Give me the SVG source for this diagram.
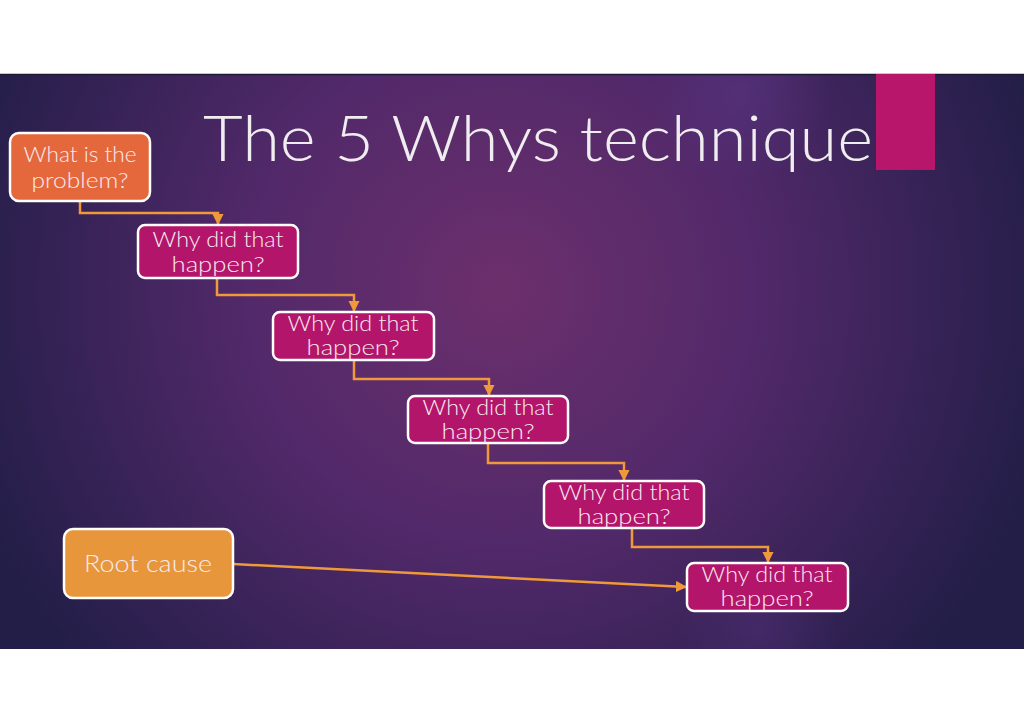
<svg xmlns="http://www.w3.org/2000/svg" width="1024" height="724" viewBox="0 0 1024 724">
  <defs>
    <radialGradient id="bg" cx="500" cy="290" r="560" gradientUnits="userSpaceOnUse">
      <stop offset="0" stop-color="#6C2F6C"/>
      <stop offset="0.45" stop-color="#52296A"/>
      <stop offset="1" stop-color="#231E48"/>
    </radialGradient>
    <radialGradient id="spot1" cx="740" cy="90" r="90" gradientUnits="userSpaceOnUse">
      <stop offset="0" stop-color="#5A3585" stop-opacity="0.6"/>
      <stop offset="1" stop-color="#5A3585" stop-opacity="0"/>
    </radialGradient>
    <radialGradient id="spot2" cx="760" cy="630" r="80" gradientUnits="userSpaceOnUse">
      <stop offset="0" stop-color="#5A3585" stop-opacity="0.35"/>
      <stop offset="1" stop-color="#5A3585" stop-opacity="0"/>
    </radialGradient>
    <marker id="arr" viewBox="0 0 10 10" refX="9" refY="5" markerWidth="4.5" markerHeight="4.5" orient="auto" markerUnits="strokeWidth">
      <path d="M0,0 L10,5 L0,10 z" fill="#F0993A"/>
    </marker>
  </defs>
  <style>
    .box { stroke: #FFFFFF; stroke-width: 2.5; }
    .why { fill: #B3156B; }
    .lbl { font-family: "Lato", "Open Sans", "Liberation Sans", sans-serif; font-weight: 300; font-size: 21px; fill: #F7EAF0; text-anchor: middle; }
    .conn { fill: none; stroke: #F0993A; stroke-width: 2.5; }
  </style>
  <rect x="0" y="0" width="1024" height="724" fill="#FFFFFF"/>
  <rect x="0" y="74" width="1024" height="575" fill="url(#bg)"/>
  <rect x="0" y="74" width="1024" height="575" fill="url(#spot1)"/>
  <rect x="0" y="74" width="1024" height="575" fill="url(#spot2)"/>
  <line x1="0" y1="74.5" x2="1024" y2="74.5" stroke="#1E1A33" stroke-width="1.5"/>
  <rect x="876" y="74" width="59" height="96" fill="#B8166A"/>
  <text x="203" y="161" font-family="Lato, 'Open Sans', 'Liberation Sans', sans-serif" font-weight="300" font-size="63" fill="#EFEDEF" textLength="670" lengthAdjust="spacingAndGlyphs">The 5 Whys technique</text>

  <g id="connectors">
    <polyline class="conn" points="80,201 80,213 218,213 218,224" marker-end="url(#arr)"/>
    <polyline class="conn" points="217,278 217,295 354,295 354,311" marker-end="url(#arr)"/>
    <polyline class="conn" points="354,360 354,379 489,379 489,395" marker-end="url(#arr)"/>
    <polyline class="conn" points="488,443 488,463 624,463 624,480" marker-end="url(#arr)"/>
    <polyline class="conn" points="632,528 632,547 768,547 768,562" marker-end="url(#arr)"/>
    <line class="conn" x1="233" y1="564" x2="686" y2="587" marker-end="url(#arr)"/>
  </g>

  <g id="problem">
    <rect class="box" x="10" y="133" width="140" height="68" rx="9" fill="#E5683C"/>
    <text class="lbl" x="80" y="162" textLength="113" lengthAdjust="spacingAndGlyphs">What is the</text>
    <text class="lbl" x="80" y="188" textLength="97" lengthAdjust="spacingAndGlyphs">problem?</text>
  </g>
  <g id="why1">
    <rect class="box why" x="138" y="225" width="160" height="53" rx="7"/>
    <text class="lbl" x="218" y="247" textLength="131" lengthAdjust="spacingAndGlyphs">Why did that</text>
    <text class="lbl" x="218" y="272" textLength="93" lengthAdjust="spacingAndGlyphs">happen?</text>
  </g>
  <g id="why2">
    <rect class="box why" x="273" y="312" width="161" height="48" rx="7"/>
    <text class="lbl" x="353" y="331" textLength="131" lengthAdjust="spacingAndGlyphs">Why did that</text>
    <text class="lbl" x="353" y="355" textLength="93" lengthAdjust="spacingAndGlyphs">happen?</text>
  </g>
  <g id="why3">
    <rect class="box why" x="408" y="396" width="160" height="47" rx="7"/>
    <text class="lbl" x="488" y="415" textLength="131" lengthAdjust="spacingAndGlyphs">Why did that</text>
    <text class="lbl" x="488" y="439" textLength="93" lengthAdjust="spacingAndGlyphs">happen?</text>
  </g>
  <g id="why4">
    <rect class="box why" x="544" y="481" width="160" height="47" rx="7"/>
    <text class="lbl" x="624" y="500" textLength="131" lengthAdjust="spacingAndGlyphs">Why did that</text>
    <text class="lbl" x="624" y="524" textLength="93" lengthAdjust="spacingAndGlyphs">happen?</text>
  </g>
  <g id="why5">
    <rect class="box why" x="687" y="563" width="161" height="48" rx="7"/>
    <text class="lbl" x="767" y="582" textLength="131" lengthAdjust="spacingAndGlyphs">Why did that</text>
    <text class="lbl" x="767" y="606" textLength="93" lengthAdjust="spacingAndGlyphs">happen?</text>
  </g>
  <g id="root">
    <rect class="box" x="64" y="529" width="169" height="69" rx="9" fill="#E8963C"/>
    <text class="lbl" x="148" y="572" style="font-size:23px" textLength="128" lengthAdjust="spacingAndGlyphs">Root cause</text>
  </g>
</svg>
